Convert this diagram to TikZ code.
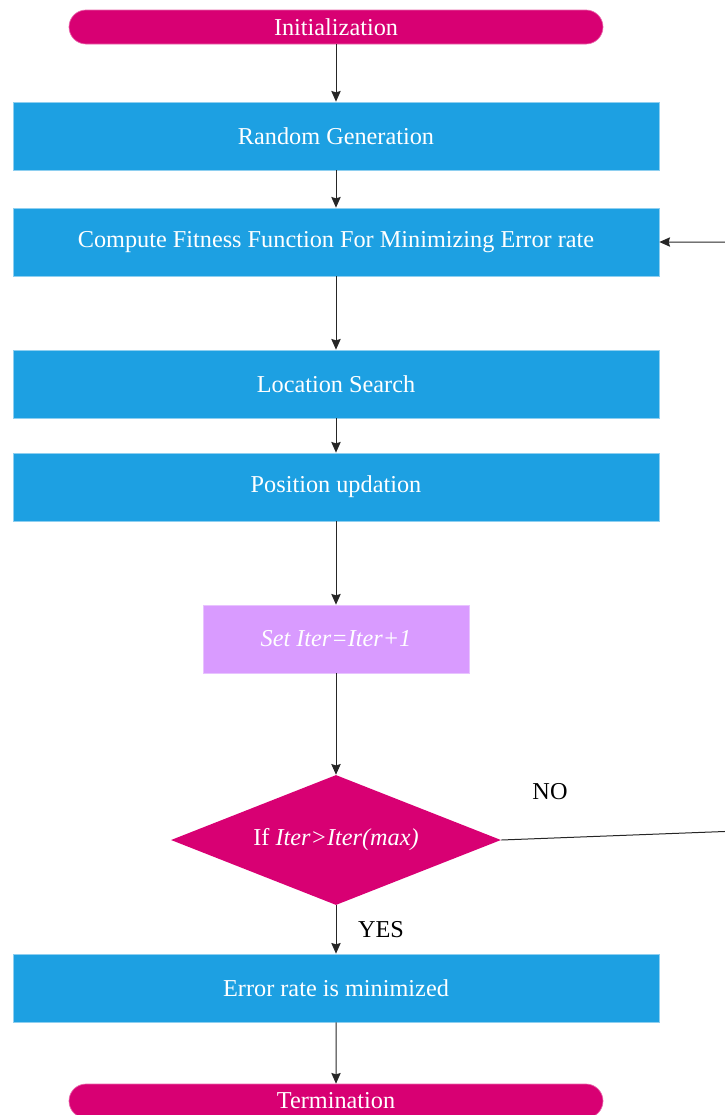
\documentclass[tikz,border=0pt]{standalone}
\usepackage{fontspec}
\setmainfont{Liberation Serif}
\usepackage{xcolor}
\usepackage{tikz}
\usetikzlibrary{shapes.geometric, shapes.misc, arrows.meta, positioning}
\definecolor{flowblue}{RGB}{29,160,226}
\definecolor{flowmagenta}{RGB}{216,0,115}
\definecolor{flowviolet}{RGB}{217,155,255}

\begin{document}
\begin{tikzpicture}[x=0.75pt, y=-0.75pt,
    every node/.style={font=\fontsize{18.2}{21}\selectfont},
    terminal/.style={rounded rectangle, fill=flowmagenta, draw=flowmagenta!60!white, line width=0.5pt,
        text=white, minimum width=400.5pt, minimum height=25.5pt, inner sep=0pt},
    process/.style={rectangle, fill=flowblue, draw=flowblue!50!white, line width=0.5pt,
        text=white, minimum width=484.5pt, minimum height=51pt, inner sep=0pt},
    counter/.style={rectangle, fill=flowviolet, draw=flowviolet!60!white, line width=0.5pt,
        text=white, minimum width=199.5pt, minimum height=51pt, inner sep=0pt},
    decision/.style={diamond, fill=flowmagenta, text=white, aspect=2.54,
        minimum width=247.5pt, minimum height=97.5pt, inner sep=0pt},
    flow/.style={line width=0.75pt, black!85, -{Stealth[length=8pt, width=7pt, inset=1pt]}}]
\useasboundingbox (0,0) rectangle (725,1115);

% Start and end
\node[terminal] (init) at (336,27) {Initialization};
\node[terminal] (term) at (336,1101) {Termination};

% Main steps
\node[process] (rand) at (336,136) {Random Generation};
\node[process] (fit)  at (336,242) {Compute Fitness Function For Minimizing Error rate};
\node[process] (loc)  at (336,384) {Location Search};
\node[process] (pos)  at (336,487) {Position updation};
\node[counter] (iter) at (336,639) {\textit{Set Iter=Iter+1}};
\node[decision] (dec) at (336,840) {If \textit{Iter>Iter(max)}};
\node[process] (err)  at (336,988) {Error rate is minimized};

% Arrows down the chain
\foreach \a/\b in {init/rand, rand/fit, fit/loc, loc/pos, pos/iter, iter/dec, dec/err, err/term} {
    \draw[flow] (\a) -- (\b);
}

% Loop back when not finished
\coordinate (back) at (790,829);
\draw[flow] (dec.east) -- (back) |- (fit.east);
\node (no) at (550,792) {NO};
\node (yes) at (381,930) {YES};
\end{tikzpicture}
\end{document}
